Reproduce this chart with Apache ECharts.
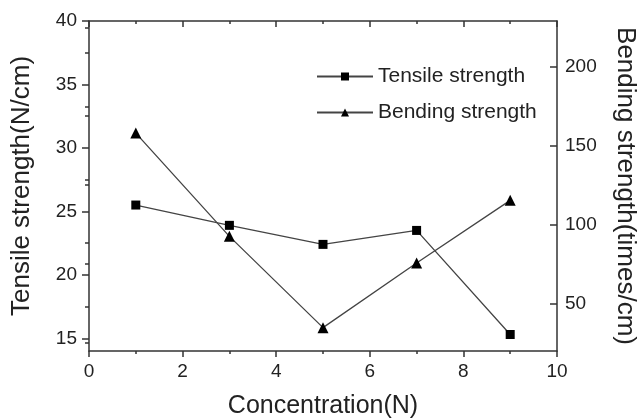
<!DOCTYPE html>
<html>
<head>
<meta charset="utf-8">
<script src="https://cdn.jsdelivr.net/npm/echarts@6/dist/echarts.min.js"></script>
<style>
  html, body { margin: 0; padding: 0; background: #fff; }
  #chart { width: 637px; height: 419px; }
</style>
</head>
<body>
<div id="chart"></div>
<script>
// Concentration levels (N)
const concentration = [1, 3, 5, 7, 9];
// Tensile strength, N/cm (left axis)
const tensileStrength = [25.5, 23.9, 22.4, 23.5, 15.3];
// Bending strength, times/cm (right axis)
const bendingStrength = [158, 92.6, 34.8, 75.7, 115.4];

// Tick values
const leftMajorTicks = [15, 20, 25, 30, 35, 40];
const leftMinorTicks = [17.5, 22.5, 27.5, 32.5, 37.5];
const rightMajorTicks = [50, 100, 150, 200];
const rightMinorTicks = [25, 75, 125, 175, 225];

const FONT = "'Liberation Sans', Arial, sans-serif";
const INK = '#222';
const AXIS = '#333';

const leftRange = { min: 14, max: 40 };
const rightRange = { min: 20, max: 229 };

const chart = echarts.init(document.getElementById('chart'), null, { renderer: 'canvas' });

const axisLine = { show: true, onZero: false, lineStyle: { color: AXIS, width: 1.5 } };

chart.setOption({
  animation: false,
  backgroundColor: '#fff',
  grid: { left: 89, right: 80, top: 21, bottom: 68, containLabel: false, outerBoundsMode: 'none' },
  legend: {
    orient: 'vertical',
    left: 311,
    top: 61,
    itemWidth: 56,
    itemHeight: 10,
    itemGap: 15,
    textStyle: { fontFamily: FONT, fontSize: 21, color: INK },
    data: ['Tensile strength', 'Bending strength']
  },
  xAxis: [
    {
      type: 'value', position: 'bottom', min: 0, max: 10, interval: 2,
      axisLine: axisLine,
      axisTick: { show: true, inside: false, length: 6, lineStyle: { color: AXIS, width: 1.5 } },
      minorTick: { show: true, splitNumber: 2, length: 3, lineStyle: { color: AXIS, width: 1.5 } },
      splitLine: { show: false },
      axisLabel: { fontFamily: FONT, fontSize: 19, color: INK, margin: 11 },
      name: 'Concentration(N)', nameLocation: 'middle', nameGap: 43,
      nameTextStyle: { fontFamily: FONT, fontSize: 25, color: INK }
    },
    {
      type: 'value', position: 'top', min: 0, max: 10, interval: 2,
      axisLine: axisLine,
      axisTick: { show: true, inside: true, length: 6, lineStyle: { color: AXIS, width: 1.5 } },
      minorTick: { show: true, splitNumber: 2, length: 3, lineStyle: { color: AXIS, width: 1.5 } },
      splitLine: { show: false },
      axisLabel: { show: false }
    }
  ],
  yAxis: [
    {
      type: 'value', position: 'left', min: leftRange.min, max: leftRange.max,
      axisLine: axisLine,
      axisTick: { show: true, inside: false, length: 7, customValues: leftMajorTicks, lineStyle: { color: AXIS, width: 1.5 } },
      splitLine: { show: false },
      axisLabel: { fontFamily: FONT, fontSize: 19, color: INK, margin: 12, customValues: leftMajorTicks },
      name: 'Tensile strength(N/cm)', nameLocation: 'middle', nameGap: 54,
      nameTextStyle: { fontFamily: FONT, fontSize: 26, color: INK }
    },
    {
      type: 'value', position: 'right', min: rightRange.min, max: rightRange.max,
      axisLine: axisLine,
      axisTick: { show: true, inside: true, length: 7, customValues: rightMajorTicks, lineStyle: { color: AXIS, width: 1.5 } },
      splitLine: { show: false },
      axisLabel: { fontFamily: FONT, fontSize: 19, color: INK, margin: 8, customValues: rightMajorTicks },
      name: 'Bending strength(times/cm)', nameLocation: 'middle', nameGap: 55, nameRotate: -90,
      nameTextStyle: { fontFamily: FONT, fontSize: 26, color: INK }
    },
    {
      // minor ticks, left
      type: 'value', position: 'left', min: leftRange.min, max: leftRange.max,
      axisLine: { show: false },
      axisTick: { show: true, inside: false, length: 4, customValues: leftMinorTicks, lineStyle: { color: AXIS, width: 1.5 } },
      splitLine: { show: false },
      axisLabel: { show: false }
    },
    {
      // minor ticks, right
      type: 'value', position: 'right', min: rightRange.min, max: rightRange.max,
      axisLine: { show: false },
      axisTick: { show: true, inside: true, length: 4, customValues: rightMinorTicks, lineStyle: { color: AXIS, width: 1.5 } },
      splitLine: { show: false },
      axisLabel: { show: false }
    }
  ],
  series: [
    {
      name: 'Tensile strength', type: 'line', xAxisIndex: 0, yAxisIndex: 0,
      data: concentration.map((c, i) => [c, tensileStrength[i]]),
      symbol: 'rect', symbolSize: 9, showAllSymbol: true,
      lineStyle: { color: '#444', width: 1.3 },
      itemStyle: { color: '#000', borderColor: '#000', borderWidth: 0 }
    },
    {
      name: 'Bending strength', type: 'line', xAxisIndex: 0, yAxisIndex: 1,
      data: concentration.map((c, i) => [c, bendingStrength[i]]),
      symbol: 'triangle', symbolSize: 11, showAllSymbol: true,
      lineStyle: { color: '#444', width: 1.3 },
      itemStyle: { color: '#000', borderColor: '#000', borderWidth: 0 }
    }
  ]
});
</script>
</body>
</html>
